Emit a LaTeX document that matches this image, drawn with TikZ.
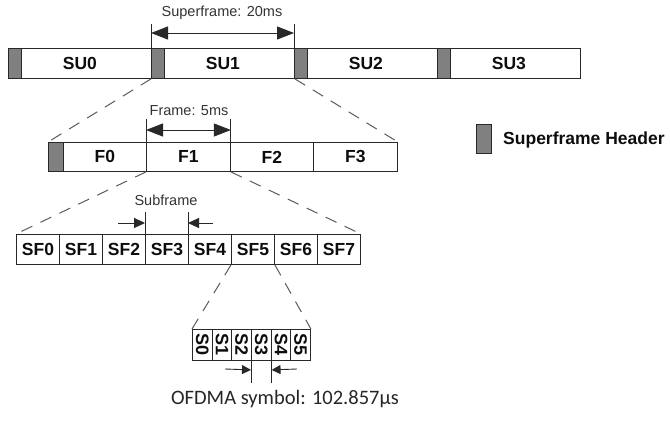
\documentclass[tikz,border=0pt]{standalone}
\usepackage{fontspec}
\setmainfont{Liberation Sans}
\newfontfamily\calfont{Carlito}
\usetikzlibrary{arrows.meta}
\definecolor{hdrgray}{RGB}{128,128,128}
\definecolor{linegray}{RGB}{40,40,40}
\definecolor{dashgray}{RGB}{90,90,90}
\begin{document}
\begin{tikzpicture}[x=1pt,y=-1pt,
  cellbox/.style={draw=linegray, line width=0.9pt, inner sep=0pt, anchor=north west,
    font=\fontsize{17.5}{17.5}\selectfont\bfseries, text=black!95},
  hdr/.style={draw=linegray, line width=0.9pt, fill=hdrgray, inner sep=0pt, anchor=north west},
  dashline/.style={draw=dashgray, line width=1pt, dash pattern=on 12pt off 9pt},
  marker/.style={draw=linegray, line width=0.9pt},
  bigarrows/.style={draw=linegray, line width=0.9pt, {Triangle[length=17pt,width=13pt]}-{Triangle[length=17pt,width=13pt]}},
  midarrow/.style={draw=linegray, line width=0.9pt, -{Triangle[length=11pt,width=10pt]}},
  smallarrow/.style={draw=linegray, line width=0.9pt, -{Triangle[length=9pt,width=9pt]}},
  lbl/.style={font=\fontsize{14.5}{14.5}\selectfont, text=black!80, inner sep=0pt}
]
\useasboundingbox (0,0) rectangle (670,423);

% ---- Superframe row ----
\foreach \i in {0,...,3} {
  \node[cellbox, minimum width=143pt, minimum height=30pt] (su\i) at ({8+143*\i},48) {SU\i};
  \node[hdr, minimum width=13pt, minimum height=30pt] (h\i) at ({8+143*\i},48) {};
}
\draw[marker] (h1.north west) -- ++(0,-24) coordinate (t1);
\draw[marker] (h2.north west) -- ++(0,-24) coordinate (t2);
\draw[bigarrows] ([yshift=15pt]h1.north west) coordinate (a1) -- ([yshift=15pt]h2.north west) coordinate (a2);
\node[lbl] (suplbl) at (222,13) {Superframe: 20ms};

% ---- Frame row ----
\node[hdr, minimum width=15pt, minimum height=29pt] (fh) at (48,142) {};
\node[cellbox, minimum width=83pt, minimum height=29pt] (f0) at (63,142) {F0};
\node[cellbox, minimum width=84pt, minimum height=29pt] (f1) at (146,142) {F1};
\node[cellbox, minimum width=83pt, minimum height=29pt] (f2) at (230,142) {F2};
\node[cellbox, minimum width=84pt, minimum height=29pt] (f3) at (313,142) {F3};
\draw[marker] (f1.north west) -- ++(0,-23) coordinate (t3);
\draw[marker] (f1.north east) -- ++(0,-23) coordinate (t4);
\draw[bigarrows] ([yshift=12pt]f1.north west) -- ([yshift=12pt]f1.north east);
\node[lbl] (frlbl) at (189,111) {Frame: 5ms};

\draw[dashline] (h1.south west) -- (fh.north west);
\draw[dashline] (su1.south east) -- (f3.north east);

% ---- Legend ----
\node[hdr, minimum width=15pt, minimum height=29pt] (leg) at (476,124) {};
\node[anchor=west, inner sep=0pt, font=\fontsize{17.5}{17.5}\selectfont\bfseries, text=black!95] (legtxt) at (503,140) {Superframe Header};

% ---- Subframe row ----
\foreach \i in {0,...,7} {
  \node[cellbox, minimum width=43pt, minimum height=30pt] (sf\i) at ({16+43*\i},234) {SF\i};
}
\draw[dashline] (f1.south west) -- (sf0.north west);
\draw[dashline] (f1.south east) -- (sf7.north east);
\draw[marker] (sf3.north west) -- ++(0,-22) coordinate (t5);
\draw[marker] (sf4.north west) -- ++(0,-22) coordinate (t6);
\coordinate (sfa) at (118,223);
\coordinate (sfb) at (213,223);
\draw[midarrow] (sfa) -- ([yshift=11pt]sf3.north west);
\draw[midarrow] (sfb) -- ([yshift=11pt]sf4.north west);
\node[lbl] (sflbl) at (166,200) {Subframe};

% ---- Symbol row ----
\foreach \i in {0,...,5} {
  \node[cellbox, minimum width=19.667pt, minimum height=31pt, font=\fontsize{18}{18}\selectfont\bfseries] (s\i) at ({192+19.667*\i},329) {\rotatebox{-90}{S\i}};
}
\draw[dashline] (sf5.south west) -- (s0.north west);
\draw[dashline] (sf5.south east) -- (s5.north east);
\draw[marker] (s3.south west) -- ++(0,22) coordinate (t7);
\draw[marker] (s3.south east) -- ++(0,22) coordinate (t8);
\coordinate (sa) at (225,369);
\coordinate (sb) at (297,369);
\draw[smallarrow] (sa) -- ([yshift=-9pt]s3.south west);
\draw[smallarrow] (sb) -- ([yshift=-9pt]s3.south east);
\node[inner sep=0pt, font=\calfont\fontsize{20.5}{20.5}\selectfont, text=black!85] (ofdm) at (285,399) {OFDMA symbol: 102.857μs};
\end{tikzpicture}
\end{document}
